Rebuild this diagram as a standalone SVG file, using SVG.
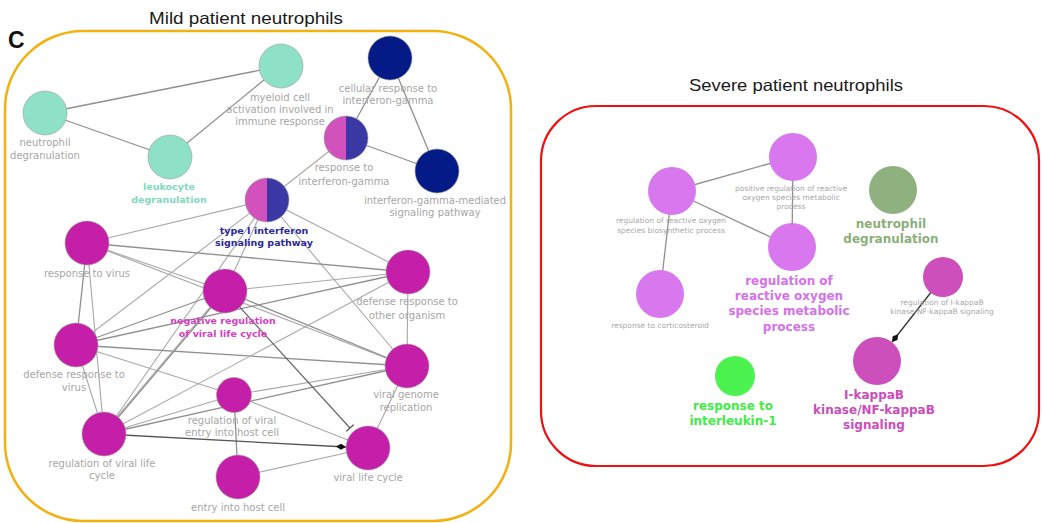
<svg xmlns="http://www.w3.org/2000/svg" width="1042" height="523" viewBox="0 0 1042 523">
<style>
.title{font-family:"Liberation Sans",Arial,sans-serif;font-size:16.5px;fill:#1a1a1a;text-anchor:middle}
.lbl{font-family:"DejaVu Sans",Verdana,sans-serif;font-size:10px;fill:#a6a6a6;text-anchor:middle}
.tiny{font-family:"DejaVu Sans",Verdana,sans-serif;font-size:7.5px;fill:#a8a8a8;text-anchor:middle}
.b{font-family:"DejaVu Sans",Verdana,sans-serif;font-size:9.5px;font-weight:bold;text-anchor:middle}
.bb{font-family:"DejaVu Sans",Verdana,sans-serif;font-size:12px;font-weight:bold;text-anchor:middle}
.n{stroke:#9a9a9a;stroke-width:0.6}
.e{stroke:#a8a8a8;stroke-width:1.1;fill:none}
.ed{stroke:#8f8f8f;stroke-width:1.3;fill:none}
.teal{fill:#8ee0c7}.navy{fill:#041b87}.pk{fill:#d252bd}.bl{fill:#3b38a6}.mag{fill:#c51fa9}
.vio{fill:#d877ee}.sg{fill:#8fb17f}.lg{fill:#4cf24f}.ik{fill:#cd4fbc}
</style>
<defs>
<marker id="arr" viewBox="-10 -4 11 8" refX="0" refY="0" markerWidth="11" markerHeight="8" markerUnits="userSpaceOnUse" orient="auto">
<path d="M0,0 L-5,-3 L-10,0 L-5,3 Z" fill="#111"/>
</marker>
<marker id="tee" viewBox="-2 -6 4 12" refX="0" refY="0" markerWidth="4" markerHeight="12" markerUnits="userSpaceOnUse" orient="auto">
<path d="M0,-5 L0,5" stroke="#444" stroke-width="1.3"/>
</marker>
</defs>
<rect width="1042" height="523" fill="#ffffff"/>

<text class="title" x="246" y="24" textLength="194" lengthAdjust="spacingAndGlyphs">Mild patient neutrophils</text>
<text x="8" y="48" font-family="Liberation Sans,Arial,sans-serif" font-size="23" font-weight="bold" fill="#111">C</text>
<rect x="5" y="31" width="506" height="490" rx="78" ry="78" fill="none" stroke="#f2b10f" stroke-width="2.5"/>

<text class="title" x="796" y="91" textLength="214" lengthAdjust="spacingAndGlyphs">Severe patient neutrophils</text>
<rect x="541" y="106" width="498" height="360" rx="55" ry="55" fill="none" stroke="#ee1111" stroke-width="2.2"/>

<g id="connectors">
<line class="ed" x1="45" y1="113" x2="281" y2="66"/>
<line class="ed" x1="45" y1="113" x2="170" y2="157"/>
<line class="ed" x1="170" y1="157" x2="281" y2="66"/>
<line class="ed" x1="390" y1="58" x2="346" y2="138"/>
<line class="ed" x1="390" y1="58" x2="437" y2="171"/>
<line class="ed" x1="346" y1="138" x2="437" y2="171"/>
<line class="e" x1="346" y1="138" x2="267" y2="200"/>
<line class="e" x1="267" y1="200" x2="87" y2="243"/>
<line class="e" x1="267" y1="200" x2="225" y2="291"/>
<line class="e" x1="267" y1="200" x2="76" y2="345"/>
<line class="e" x1="267" y1="200" x2="104" y2="434"/>
<line class="e" x1="267" y1="200" x2="408" y2="272"/>
<line class="e" x1="267" y1="200" x2="407" y2="366"/>
<line class="ed" x1="87" y1="243" x2="76" y2="345"/>
<line class="e" x1="87" y1="243" x2="104" y2="434"/>
<line class="ed" x1="87" y1="243" x2="408" y2="272"/>
<line class="e" x1="87" y1="243" x2="225" y2="291"/>
<line class="e" x1="87" y1="243" x2="407" y2="366"/>
<line class="ed" x1="76" y1="345" x2="225" y2="291"/>
<line class="ed" x1="76" y1="345" x2="408" y2="272"/>
<line class="ed" x1="76" y1="345" x2="407" y2="366"/>
<line class="e" x1="76" y1="345" x2="104" y2="434"/>
<line class="e" x1="76" y1="345" x2="234" y2="395"/>
<line class="e" x1="225" y1="291" x2="408" y2="272"/>
<line class="ed" x1="225" y1="291" x2="407" y2="366"/>
<line class="ed" x1="225" y1="291" x2="104" y2="434"/>
<line class="e" x1="227" y1="287" x2="106" y2="430"/>
<line class="e" x1="408" y1="272" x2="407" y2="366"/>
<line class="e" x1="408" y1="272" x2="104" y2="434"/>
<line class="e" x1="104" y1="434" x2="234" y2="395"/>
<line class="ed" x1="104" y1="434" x2="407" y2="366"/>
<line class="ed" x1="234" y1="395" x2="238" y2="477"/>
<line class="e" x1="234" y1="395" x2="368" y2="448"/>
<line class="e" x1="234" y1="395" x2="407" y2="366"/>
<line class="e" x1="238" y1="477" x2="368" y2="448"/>
<line class="e" x1="407" y1="366" x2="368" y2="448"/>
<line x1="104" y1="434" x2="346" y2="447" stroke="#555" stroke-width="1.3" marker-end="url(#arr)"/>
<line x1="225" y1="291" x2="350" y2="428" stroke="#666" stroke-width="1.2" marker-end="url(#tee)"/>

<line class="ed" x1="672" y1="191" x2="793" y2="157"/>
<line class="ed" x1="672" y1="191" x2="792" y2="247"/>
<line class="ed" x1="793" y1="157" x2="792" y2="247"/>
<line class="ed" x1="672" y1="191" x2="660" y2="294"/>
<line x1="943" y1="277" x2="892" y2="342" stroke="#333" stroke-width="1.3" marker-end="url(#arr)"/>
</g>

<g id="neutrophil-degranulation">
<circle class="n teal" cx="45" cy="113" r="22"/>
<text class="lbl" x="45" y="145.5">neutrophil</text>
<text class="lbl" x="45" y="158.5">degranulation</text>
</g>
<g id="myeloid-cell-activation">
<circle class="n teal" cx="281" cy="66" r="22"/>
<text class="lbl" x="280" y="100.5">myeloid cell</text>
<text class="lbl" x="280" y="112.5">activation involved in</text>
<text class="lbl" x="280" y="124.5">immune response</text>
</g>
<g id="leukocyte-degranulation">
<circle class="n teal" cx="170" cy="157" r="22"/>
<text class="b" x="169" y="189.5" fill="#7fd9bf">leukocyte</text>
<text class="b" x="169" y="202.5" fill="#7fd9bf">degranulation</text>
</g>
<g id="cellular-response-ifng">
<circle class="n navy" cx="390" cy="58" r="22"/>
<text class="lbl" x="388" y="91.5">cellular response to</text>
<text class="lbl" x="388" y="104">interferon-gamma</text>
</g>
<g id="response-ifng">
<path class="pk" d="M346,116 A22,22 0 0 0 346,160 Z"/>
<path class="bl" d="M346,116 A22,22 0 0 1 346,160 Z"/>
<circle cx="346" cy="138" r="22" fill="none" stroke="#9a9a9a" stroke-width="0.6"/>
<text class="lbl" x="344" y="171">response to</text>
<text class="lbl" x="344" y="184.5">interferon-gamma</text>
</g>
<g id="ifng-mediated-signaling">
<circle class="n navy" cx="437" cy="171" r="22"/>
<text class="lbl" x="435" y="203.5">interferon-gamma-mediated</text>
<text class="lbl" x="435" y="215.5">signaling pathway</text>
</g>
<g id="type-I-interferon">
<path class="pk" d="M267,178 A22,22 0 0 0 267,222 Z"/>
<path class="bl" d="M267,178 A22,22 0 0 1 267,222 Z"/>
<circle cx="267" cy="200" r="22" fill="none" stroke="#9a9a9a" stroke-width="0.6"/>
<text class="b" x="264" y="233.5" fill="#2a2a9e">type I interferon</text>
<text class="b" x="264" y="245.5" fill="#2a2a9e">signaling pathway</text>
</g>
<g id="response-to-virus">
<circle class="n mag" cx="87" cy="243" r="22"/>
<text class="lbl" x="87" y="276.5">response to virus</text>
</g>
<g id="negative-regulation-viral-life-cycle">
<circle class="n mag" cx="225" cy="291" r="22"/>
<text class="b" x="223" y="323.5" fill="#d43fc1">negative regulation</text>
<text class="b" x="223" y="336.5" fill="#d43fc1">of viral life cycle</text>
</g>
<g id="defense-response-other-organism">
<circle class="n mag" cx="408" cy="272" r="22"/>
<text class="lbl" x="407" y="305">defense response to</text>
<text class="lbl" x="407" y="318.5">other organism</text>
</g>
<g id="defense-response-virus">
<circle class="n mag" cx="76" cy="345" r="22"/>
<text class="lbl" x="74" y="377.5">defense response to</text>
<text class="lbl" x="74" y="390.5">virus</text>
</g>
<g id="viral-genome-replication">
<circle class="n mag" cx="407" cy="366" r="22"/>
<text class="lbl" x="406" y="397.5">viral genome</text>
<text class="lbl" x="406" y="410.5">replication</text>
</g>
<g id="regulation-viral-entry">
<circle class="n mag" cx="234" cy="395" r="17.5"/>
<text class="lbl" x="232" y="423.5">regulation of viral</text>
<text class="lbl" x="232" y="436">entry into host cell</text>
</g>
<g id="regulation-viral-life-cycle">
<circle class="n mag" cx="104" cy="434" r="22"/>
<text class="lbl" x="102" y="466.5">regulation of viral life</text>
<text class="lbl" x="102" y="479">cycle</text>
</g>
<g id="entry-into-host-cell">
<circle class="n mag" cx="238" cy="477" r="22"/>
<text class="lbl" x="238" y="510.5">entry into host cell</text>
</g>
<g id="viral-life-cycle">
<circle class="n mag" cx="368" cy="448" r="22"/>
<text class="lbl" x="368" y="480.5">viral life cycle</text>
</g>

<g id="reg-ros-biosynthetic">
<circle class="vio" cx="672" cy="191" r="24"/>
<text class="tiny" x="671" y="223">regulation of reactive oxygen</text>
<text class="tiny" x="671" y="232.5">species biosynthetic process</text>
</g>
<g id="pos-reg-ros-metabolic">
<circle class="vio" cx="793" cy="157" r="24"/>
<text class="tiny" x="791" y="190.5">positive regulation of reactive</text>
<text class="tiny" x="791" y="200">oxygen species metabolic</text>
<text class="tiny" x="791" y="209">process</text>
</g>
<g id="reg-ros-metabolic">
<circle class="vio" cx="792" cy="247" r="24"/>
<text class="bb" x="789" y="284.5" fill="#d472ea">regulation of</text>
<text class="bb" x="789" y="299.5" fill="#d472ea">reactive oxygen</text>
<text class="bb" x="789" y="315" fill="#d472ea">species metabolic</text>
<text class="bb" x="789" y="330.5" fill="#d472ea">process</text>
</g>
<g id="severe-neutrophil-degranulation">
<circle class="sg" cx="893" cy="190" r="24"/>
<text class="bb" x="891" y="227.5" fill="#8aaf78">neutrophil</text>
<text class="bb" x="891" y="242.5" fill="#8aaf78">degranulation</text>
</g>
<g id="response-corticosteroid">
<circle class="vio" cx="660" cy="294" r="24"/>
<text class="tiny" x="660" y="327.5">response to corticosteroid</text>
</g>
<g id="reg-ikappab">
<circle class="ik" cx="943" cy="277" r="20"/>
<text class="tiny" x="942" y="304.5">regulation of I-kappaB</text>
<text class="tiny" x="942" y="313.5">kinase/NF-kappaB signaling</text>
</g>
<g id="ikappab-signaling">
<circle class="ik" cx="877" cy="361" r="24"/>
<text class="bb" x="874" y="398.5" fill="#cb4cba">I-kappaB</text>
<text class="bb" x="874" y="413.5" fill="#cb4cba">kinase/NF-kappaB</text>
<text class="bb" x="874" y="428.5" fill="#cb4cba">signaling</text>
</g>
<g id="response-interleukin-1">
<circle class="lg" cx="735" cy="376" r="20"/>
<text class="bb" x="733" y="409.5" fill="#44ea46">response to</text>
<text class="bb" x="733" y="424.5" fill="#44ea46">interleukin-1</text>
</g>
</svg>
